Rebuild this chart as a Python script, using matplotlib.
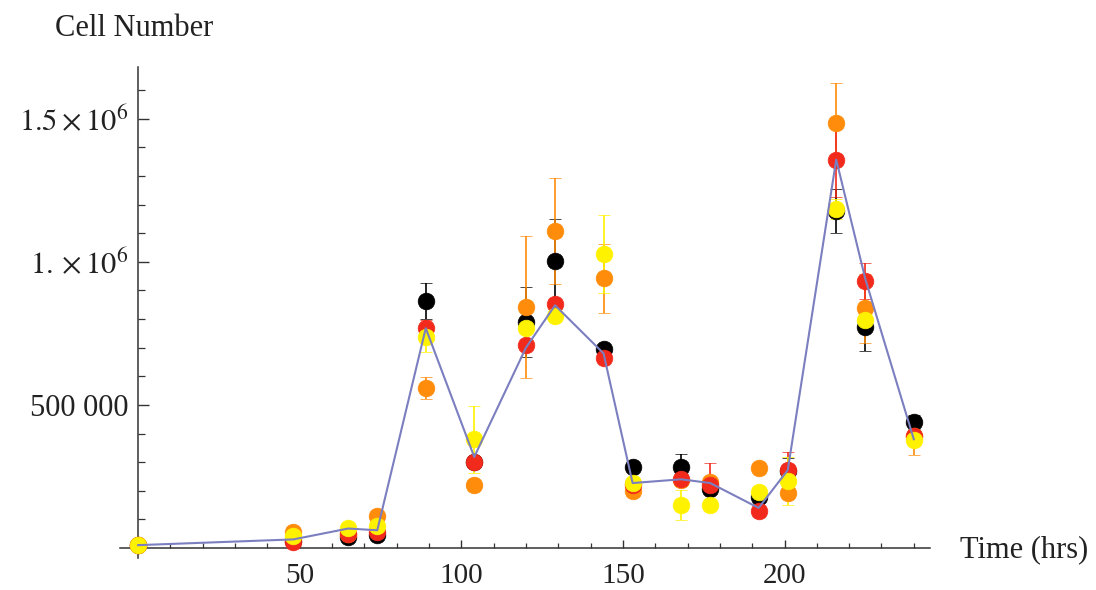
import matplotlib
matplotlib.use("Agg")
import matplotlib.pyplot as plt
from matplotlib.ticker import FixedLocator
import numpy as np

plt.rcParams['font.family'] = ['Liberation Serif', 'DejaVu Serif']
plt.rcParams['mathtext.fontset'] = 'stix'

# sampling times (hrs)
times = [0, 48, 65, 74, 89, 104, 120, 129, 144, 153, 168, 177, 192, 201, 216, 225, 240]

# cell counts per replicate, in millions
black  = [0.010, 0.025, 0.040, 0.045, 0.862, 0.300, 0.789, 1.001, 0.694, 0.283, 0.283, 0.206, 0.178, 0.270, 1.176, 0.771, 0.440]
orange = [0.010, 0.056, 0.050, 0.112, 0.558, 0.220, 0.841, 1.106, 0.942, 0.200, 0.237, 0.230, 0.279, 0.192, 1.486, 0.837, 0.390]
red    = [0.010, 0.021, 0.050, 0.056, 0.768, 0.300, 0.708, 0.851, 0.663, 0.220, 0.240, 0.220, 0.129, 0.272, 1.357, 0.932, 0.390]
yellow = [0.010, 0.042, 0.070, 0.077, 0.737, 0.380, 0.768, 0.810, 1.026, 0.227, 0.150, 0.150, 0.195, 0.234, 1.183, 0.795, 0.377]

black_err  = [0.005, 0.010, 0.010, 0.010, 0.063, 0.020, 0.122, 0.150, 0.010, 0.010, 0.045, 0.010, 0.010, 0.046, 0.077, 0.084, 0.024]
orange_err = [0.005, 0.010, 0.010, 0.010, 0.038, 0.010, 0.248, 0.185, 0.120, 0.010, 0.020, 0.010, 0.010, 0.010, 0.137, 0.120, 0.065]
red_err    = [0.005, 0.010, 0.010, 0.010, 0.030, 0.010, 0.010, 0.010, 0.010, 0.010, 0.010, 0.077, 0.010, 0.063, 0.132, 0.062, 0.010]
yellow_err = [0.005, 0.010, 0.010, 0.010, 0.053, 0.117, 0.010, 0.010, 0.136, 0.010, 0.052, 0.010, 0.010, 0.084, 0.035, 0.020, 0.020]

# trend line through the time course
trend = [0.010, 0.030, 0.068, 0.062, 0.768, 0.318, 0.700, 0.848, 0.680, 0.227, 0.240, 0.227, 0.140, 0.272, 1.357, 0.940, 0.380]

series = [
    (black, black_err, '#000000'),
    (orange, orange_err, '#ff8c0a'),
    (red, red_err, '#f22a1c'),
    (yellow, yellow_err, '#fff200'),
]

fig = plt.figure(figsize=(10.96, 5.90), dpi=100)
ax = fig.add_axes([0.1095, 0.0542, 0.739, 0.832])

M = 1e6
ax.plot(times, np.array(trend) * M, color='#7b7fc0', lw=1.5, zorder=5)

for vals, errs, col in series:
    ax.errorbar(times, np.array(vals) * M, yerr=np.array(errs) * M,
                fmt='o', color=col, ecolor=col, mec=col, ms=12, mew=0.5,
                elinewidth=1.2, capsize=4.5, capthick=1.2,
                zorder=3, clip_on=False)

ax.set_xlim(-5.6, 245)
ax.set_ylim(-0.035e6, 1.68e6)

for s in ['top', 'right']:
    ax.spines[s].set_visible(False)
ax.spines['left'].set_position(('data', 0))
ax.spines['bottom'].set_position(('data', 0))
for s in ['left', 'bottom']:
    ax.spines[s].set_color('#333333')
    ax.spines[s].set_linewidth(1.1)

ax.xaxis.set_major_locator(FixedLocator([50, 100, 150, 200]))
ax.xaxis.set_minor_locator(FixedLocator([t for t in range(10, 250, 10) if t % 50]))
ax.set_xticklabels(['50', '100', '150', '200'])

ax.yaxis.set_major_locator(FixedLocator([0.5e6, 1.0e6, 1.5e6]))
ax.yaxis.set_minor_locator(FixedLocator([k * 1e5 for k in range(1, 17) if k % 5]))
ax.set_yticklabels(['500 000', r'$1.\times 10^{6}$', r'$1.5\times 10^{6}$'])

ax.tick_params(axis='x', which='major', direction='in', length=6, width=1.0,
               color='#333333', pad=11, labelsize=21, labelcolor='#222222')
ax.tick_params(axis='x', which='minor', direction='in', length=3.5, width=0.9,
               color='#333333')
ax.tick_params(axis='y', which='major', direction='in', length=8, width=1.0,
               color='#333333', pad=7, labelsize=22, labelcolor='#222222')
ax.tick_params(axis='y', which='minor', direction='in', length=5, width=0.9,
               color='#333333')

fig.text(55 / 1096, 1 - 28 / 590, 'Cell Number', fontsize=22, color='#222222',
         ha='left', va='center')
fig.text(960 / 1096, 1 - 550 / 590, 'Time (hrs)', fontsize=22, color='#222222',
         ha='left', va='center')

fig.savefig('out.png', dpi=100)
